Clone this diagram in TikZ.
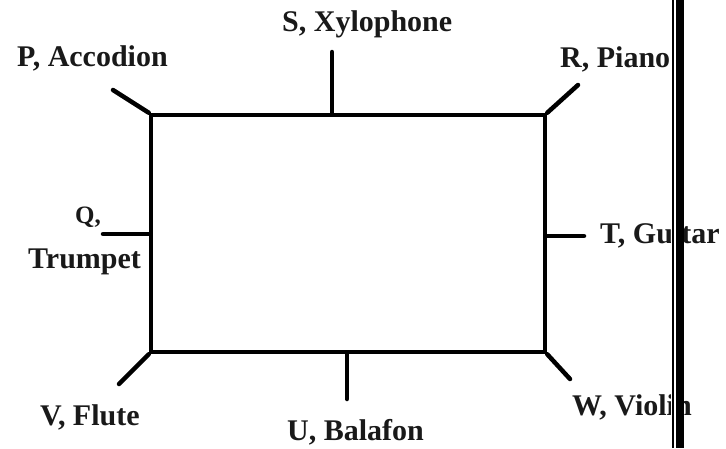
\documentclass[tikz,border=0pt]{standalone}
\usepackage{fontspec}
\setmainfont{Liberation Serif}
\begin{document}
\begin{tikzpicture}[x=1pt,y=-1pt,
  lab/.style={anchor=base west, inner sep=0pt, font=\fontsize{30}{31}\selectfont\bfseries, text=black!90},
  tick/.style={line width=4.5pt, line cap=round},
  boxst/.style={draw, line width=4.5pt, minimum width=394pt, minimum height=237pt, inner sep=0pt}
]
\useasboundingbox (0,0) rectangle (726,448);
\fill[white] (0,0) rectangle (726,448);

% main rectangle
\node[boxst] (box) at (348,233.5) {};

% labels
\node[lab] (P) at (17,66) {P, Accodion};
\node[lab] (S) at (282,31) {S, Xylophone};
\node[lab] (R) at (560,67) {R, Piano};
\node[lab, anchor=base east, font=\fontsize{25}{27}\selectfont\bfseries] (Q) at (101,223) {Q,};
\node[lab] (Qt) at (28,268) {Trumpet};
\node[lab] (T) at (600,243) {T, Guitar};
\node[lab] (W) at (572,415) {W, Violin};
\node[lab] (V) at (40,425) {V, Flute};
\node[lab] (U) at (287,440) {U, Balafon};

% tick end points
\coordinate (pEnd) at (113,90);
\coordinate (sEnd) at (332,52);
\coordinate (rEnd) at (578,85);
\coordinate (qEnd) at (103,234);
\coordinate (tEnd) at (584,236);
\coordinate (vEnd) at (119,384);
\coordinate (uEnd) at (347,399);
\coordinate (wEnd) at (570,379);

% ticks
\draw[tick] (box.north west) -- (pEnd);
\draw[tick] (sEnd |- box.north) -- (sEnd);
\draw[tick] (box.north east) -- (rEnd);
\draw[tick] (qEnd -| box.west) -- (qEnd);
\draw[tick] (tEnd -| box.east) -- (tEnd);
\draw[tick] (box.south west) -- (vEnd);
\draw[tick] (uEnd |- box.south) -- (uEnd);
\draw[tick] (box.south east) -- (wEnd);

% right edge bars
\fill[white] (671,0) rectangle (684,448);
\fill[black] (672,0) rectangle (673.6,448);
\fill[black] (676,0) rectangle (683.5,448);
\end{tikzpicture}
\end{document}
